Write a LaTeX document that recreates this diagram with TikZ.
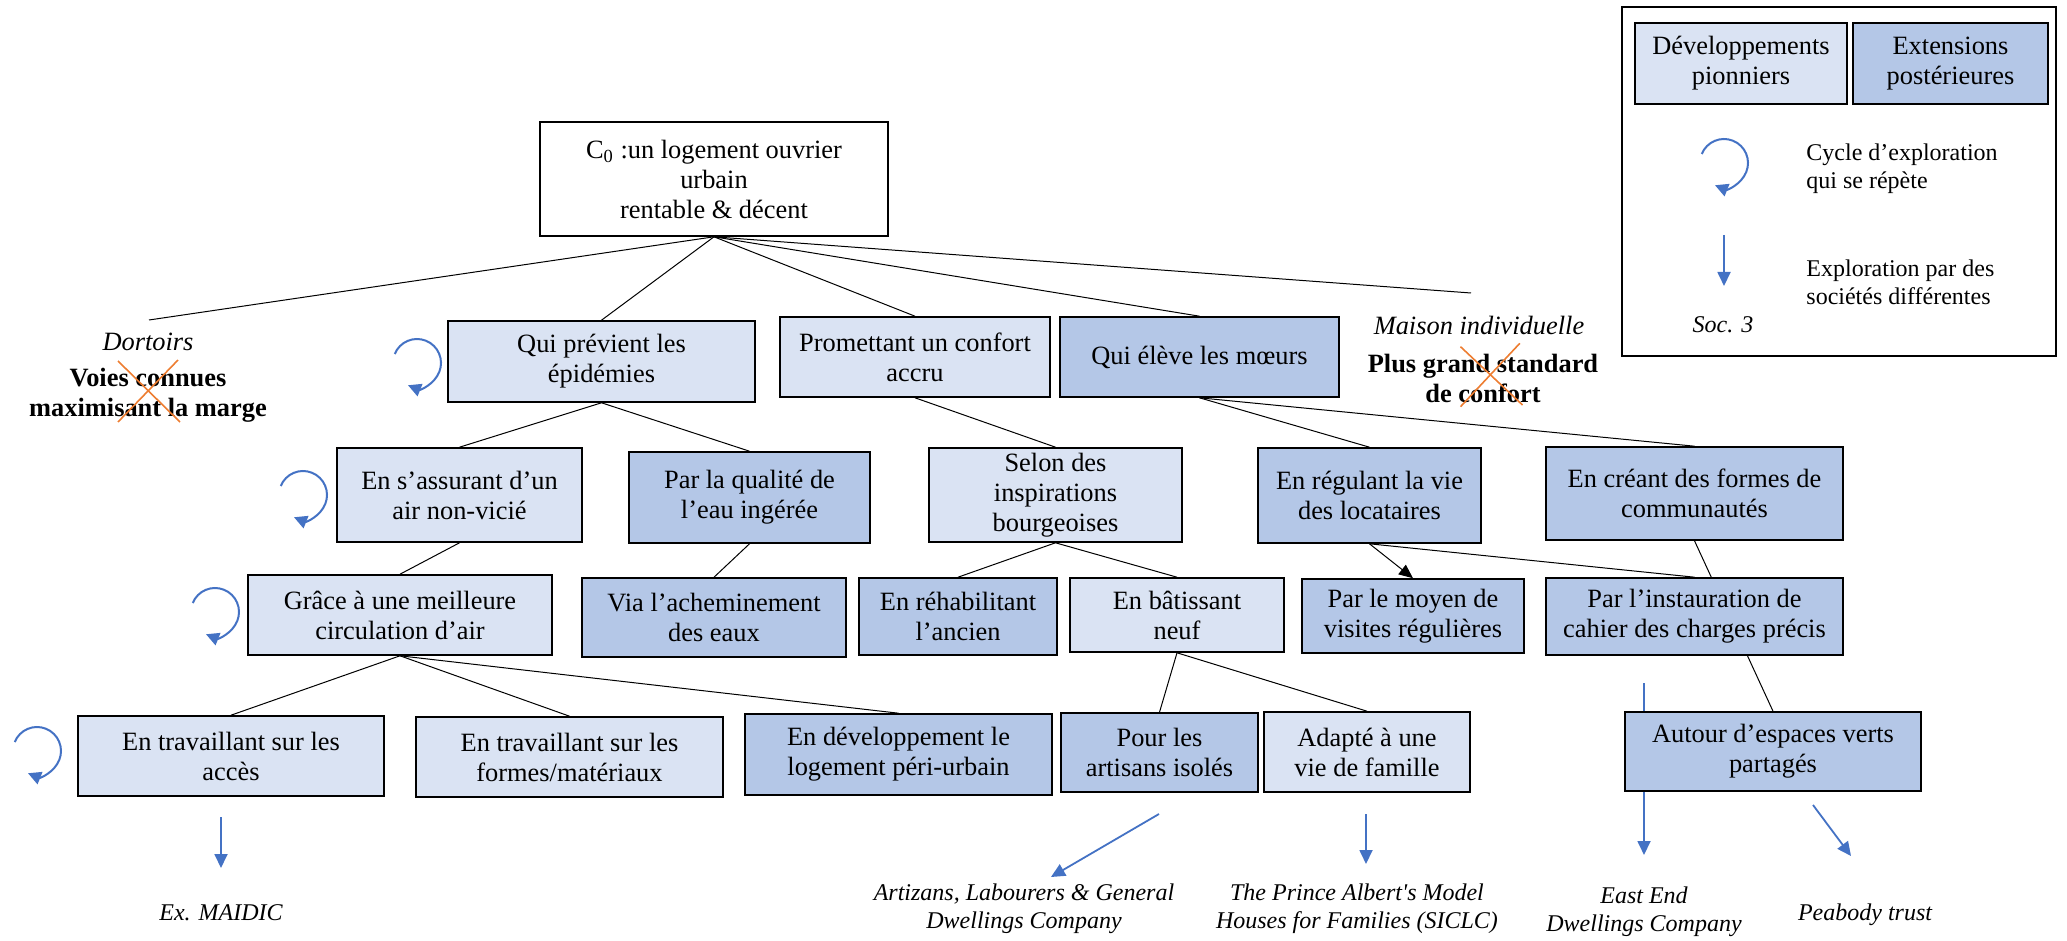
\documentclass[tikz,border=0pt]{standalone}
\usepackage{fontspec}
\setmainfont{Liberation Serif}
\usepackage{xcolor}
\usepackage{tikz}
\usetikzlibrary{arrows.meta,backgrounds}
\definecolor{pionnierfill}{HTML}{DAE3F3}
\definecolor{posterfill}{HTML}{B4C7E7}
\definecolor{socblue}{HTML}{4472C4}
\definecolor{croixorange}{HTML}{ED7D31}
\tikzset{
  every node/.style={
    font=\fontsize{13.2}{15}\selectfont
  },
  pionnier/.style={
    shape=rectangle,
    draw=black,
    line width=0.8pt,
    fill=pionnierfill,
    align=center,
    inner sep=1pt
  },
  posterieur/.style={
    pionnier,
    fill=posterfill
  },
  racine/.style={
    pionnier,
    fill=white
  },
  branche/.style={
    draw=black,
    line width=0.5pt
  },
  societe/.style={
    draw=socblue,
    line width=0.9pt,
    -{Triangle[length=7pt,width=6.5pt]}
  },
  titre/.style={
    font=\fontsize{13.2}{15}\selectfont\itshape
  },
  abandon/.style={
    font=\fontsize{13.2}{15}\selectfont\bfseries,
    align=center
  },
  exemple/.style={
    font=\fontsize{12}{14}\selectfont\itshape,
    align=center
  },
  legende/.style={
    font=\fontsize{12}{14}\selectfont,
    align=left,
    anchor=west,
    inner sep=0pt
  },
  barre/.style={
    draw=croixorange,
    line width=0.8pt
  },
  loopmark/.pic={
    \draw[socblue, line width=1pt, -{Triangle[length=6.5pt,width=6.5pt]}]
      (158:12pt) arc[start angle=158, end angle=-112, radius=12pt];
  }
}

\begin{document}
\begin{tikzpicture}[x=0.5pt,y=-0.5pt]
  \useasboundingbox (0,0) rectangle (2067,941);

  \node[racine, minimum width=174pt, minimum height=57pt] (c0) at (714,179)
    {C\textsubscript{0} :un logement ouvrier\\urbain\\rentable \& décent};

  \coordinate (dortoirsend) at (149,320);
  \node[titre] (dortoirs) at (148,342) {Dortoirs};
  \node[abandon] (voies) at (148,395) {Voies connues\\maximisant la marge};
  \coordinate (maisonend) at (1471,293);
  \node[titre] (maison) at (1479,325) {Maison individuelle};
  \node[abandon] (plus) at (1483,378) {Plus grand standard\\de confort};

  \node[pionnier, minimum width=153.5pt, minimum height=40.5pt] (prev) at (601.5,361.5)
    {Qui prévient les\\épidémies};
  \node[pionnier, minimum width=135pt, minimum height=40pt] (confort) at (915,357)
    {Promettant un confort\\accru};
  \node[posterieur, minimum width=139.5pt, minimum height=40pt] (moeurs) at (1199.5,357)
    {Qui élève les mœurs};

  \node[pionnier, minimum width=122.5pt, minimum height=47pt] (air) at (459.5,495)
    {En s’assurant d’un\\air non-vicié};
  \node[posterieur, minimum width=120.5pt, minimum height=45.5pt] (eau) at (749.5,497.5)
    {Par la qualité de\\l’eau ingérée};
  \node[pionnier, minimum width=126.5pt, minimum height=47pt] (bourg) at (1055.5,495)
    {Selon des\\inspirations\\bourgeoises};
  \node[posterieur, minimum width=111.5pt, minimum height=47.5pt] (regul) at (1369.5,495.5)
    {En régulant la vie\\des locataires};
  \node[posterieur, minimum width=148.5pt, minimum height=46.5pt] (commu) at (1694.5,493.5)
    {En créant des formes de\\communautés};

  \node[pionnier, minimum width=152pt, minimum height=40pt] (circ) at (400,615)
    {Grâce à une meilleure\\circulation d’air};
  \node[posterieur, minimum width=132pt, minimum height=39.5pt] (achem) at (714,617.5)
    {Via l’acheminement\\des eaux};
  \node[posterieur, minimum width=99pt, minimum height=38.5pt] (rehab) at (958,616.5)
    {En réhabilitant\\l’ancien};
  \node[pionnier, minimum width=107pt, minimum height=37pt] (neuf) at (1177,615)
    {En bâtissant\\neuf};
  \node[posterieur, minimum width=111pt, minimum height=37pt] (visit) at (1413,616)
    {Par le moyen de\\visites régulières};
  \node[posterieur, minimum width=148.5pt, minimum height=38.5pt] (cahier) at (1694.5,616.5)
    {Par l’instauration de\\cahier des charges précis};

  \node[pionnier, minimum width=153pt, minimum height=40pt] (acces) at (231,756)
    {En travaillant sur les\\accès};
  \node[pionnier, minimum width=153.5pt, minimum height=40pt] (formes) at (569.5,757)
    {En travaillant sur les\\formes/matériaux};
  \node[posterieur, minimum width=153.5pt, minimum height=40.5pt] (peri) at (898.5,754.5)
    {En développement le\\logement péri-urbain};
  \node[posterieur, minimum width=98.5pt, minimum height=39.5pt] (artisan) at (1159.5,752.5)
    {Pour les\\artisans isolés};
  \node[pionnier, minimum width=103pt, minimum height=40pt] (famille) at (1367,752)
    {Adapté à une\\vie de famille};
  \node[posterieur, minimum width=148pt, minimum height=39.5pt] (autour) at (1773,751.5)
    {Autour d’espaces verts\\partagés};

  \node[exemple] (maidic) at (221,913) {Ex. MAIDIC};
  \node[exemple] (labourers) at (1024,909) {Artizans, Labourers \& General\\Dwellings Company};
  \node[exemple] (albert) at (1357,909) {The Prince Albert\textquotesingle s Model\\Houses for Families (SICLC)};
  \node[exemple] (eastend) at (1644,912) {East End\\Dwellings Company};
  \node[exemple] (peabody) at (1865,915) {Peabody trust};

  \coordinate (maidicA) at (221,817);
  \coordinate (maidicB) at (221,868);
  \coordinate (labourersA) at (1159,814);
  \coordinate (labourersB) at (1051,877);
  \coordinate (albertA) at (1366,814);
  \coordinate (albertB) at (1366,864);
  \coordinate (eastendA) at (1644,683);
  \coordinate (eastendB) at (1644,855);
  \coordinate (peabodyA) at (1813,805);
  \coordinate (peabodyB) at (1851,856);

  \foreach \p in {(417,363),(303,495),(215,612),(37,751)}
    \pic at \p {loopmark};

  \node[draw=black, line width=1pt, minimum width=217pt, minimum height=174.5pt] (cadre) at (1839,181.5) {};
  \node[pionnier, minimum width=106pt, minimum height=40.5pt] (legA) at (1741,63.5)
    {Développements\\pionniers};
  \node[posterieur, minimum width=97.5pt, minimum height=40.5pt] (legB) at (1950.5,63.5)
    {Extensions\\postérieures};
  \pic at (1724,163) {loopmark};
  \node[legende] (legcycle) at (1806,169) {Cycle d’exploration\\qui se répète};
  \coordinate (legsocA) at (1724,235);
  \coordinate (legsocB) at (1724,286);
  \draw[societe] (legsocA) -- (legsocB);
  \node[legende] (legsoc) at (1806,282) {Exploration par des\\sociétés différentes};
  \node[exemple] (soc3) at (1723,325) {Soc. 3};

  \draw[barre] ([shift={(-30,-34)}]voies.center) -- ([shift={(32,27)}]voies.center);
  \draw[barre] ([shift={(30,-35)}]voies.center) -- ([shift={(-30,27)}]voies.center);
  \draw[barre] ([shift={(-22.5,-31.3)}]plus.center) -- ([shift={(39.5,27)}]plus.center);
  \draw[barre] ([shift={(36.8,-34.7)}]plus.center) -- ([shift={(-22.5,28.7)}]plus.center);

  \begin{scope}[on background layer]
    \draw[branche] (c0.south) -- (dortoirsend);
    \draw[branche] (c0.south) -- (maisonend);
    \foreach \a/\b in {c0/prev, c0/confort, c0/moeurs, prev/air, prev/eau,
                       confort/bourg, moeurs/regul, moeurs/commu, air/circ,
                       eau/achem, bourg/rehab, bourg/neuf, regul/cahier,
                       commu/autour, circ/acces, circ/formes, circ/peri,
                       neuf/artisan, neuf/famille}
      \draw[branche] (\a.south) -- (\b.north);
    \draw[branche, -{Triangle[length=7pt,width=6pt]}] (regul.south) -- (visit.north);
    \draw[societe] (maidicA) -- (maidicB);
    \draw[societe] (labourersA) -- (labourersB);
    \draw[societe] (albertA) -- (albertB);
    \draw[societe] (eastendA) -- (eastendB);
    \draw[societe] (peabodyA) -- (peabodyB);
  \end{scope}
\end{tikzpicture}
\end{document}
